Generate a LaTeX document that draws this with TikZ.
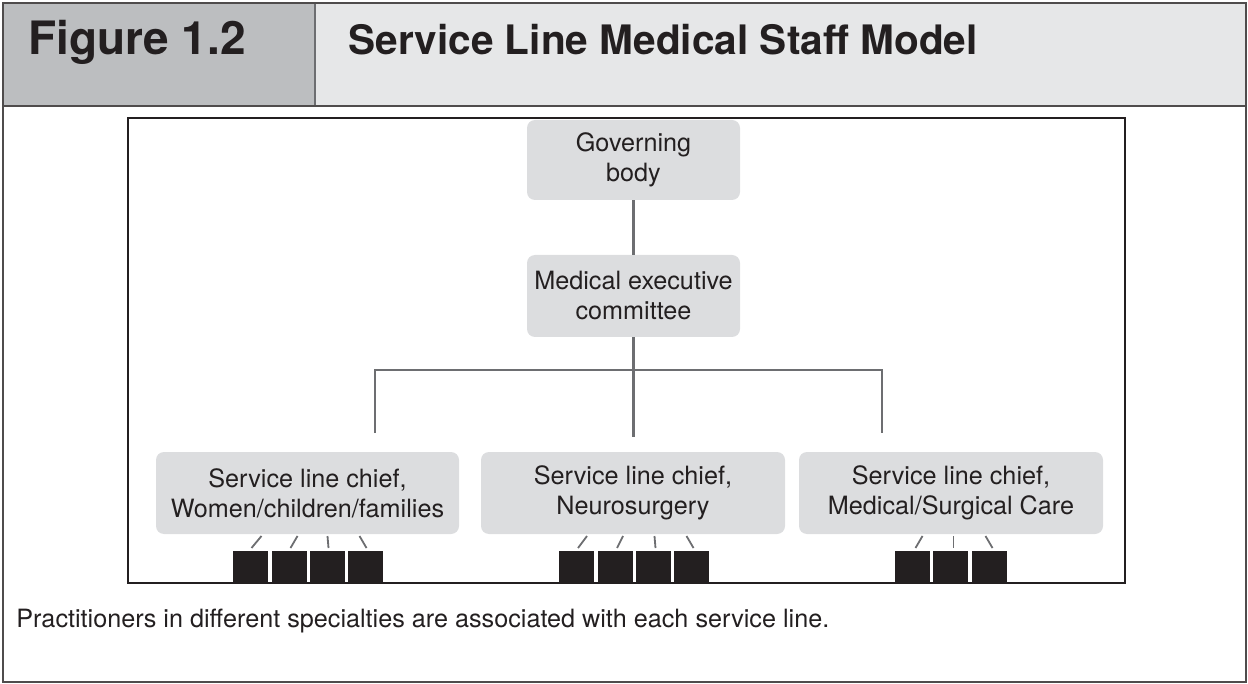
\documentclass[tikz,border=0pt]{standalone}
\usepackage{fontspec}
\setmainfont{TeX Gyre Heros}
\definecolor{ink}{HTML}{231F20}
\definecolor{rule}{HTML}{6D6E71}
\definecolor{boxfill}{HTML}{DCDDDF}
\definecolor{headdark}{HTML}{BCBEC0}
\definecolor{headlight}{HTML}{E6E7E8}

\begin{document}
\begin{tikzpicture}[x=0.5pt,y=-0.5pt,
        unit/.style={fill=boxfill,rounded corners=4pt,align=center,text=ink,
            font=\fontsize{12.6}{15}\selectfont,inner sep=0pt},
        link/.style={draw=rule,line width=1.3pt},
        member/.style={fill=ink}]
            \useasboundingbox (0,0) rectangle (1248,684);

            % header band and frame
            \fill[headdark]  (3,3) rectangle (315,106);
            \fill[headlight] (315,3) rectangle (1246,106);
            \draw[rule,line width=0.6pt] (315,3) -- (315,106);
            \draw[ink!80,line width=0.6pt] (3,106) -- (1246,106);
            \draw[ink!80,line width=0.6pt] (3,3) rectangle (1246,682);
            \node[anchor=base west,text=ink,font=\fontsize{23}{26}\bfseries\selectfont,inner sep=0pt]
                (fig) at (28,55) {Figure 1.2};
            \node[anchor=base west,text=ink,font=\fontsize{20.3}{24}\bfseries\selectfont,inner sep=0pt]
                (title) at (348,55) {Service Line Medical Staff Model};

            % chart frame
            \draw[ink,line width=1.3pt] (128,118) rectangle (1125,583);

            % boxes (sizes in pt, half the grid units)
            \node[unit,minimum width=106.5pt,minimum height=40pt] (gov) at (633.5,160) {Governing\\body};
            \node[unit,minimum width=106.5pt,minimum height=41pt] (mec) at (633.5,296) {Medical executive\\committee};
            \node[unit,minimum width=151.5pt,minimum height=41pt] (women) at (307.5,493) {Service line chief,\\Women/children/families};
            \node[unit,minimum width=152pt,minimum height=41pt] (neuro) at (633,493) {Service line chief,\\Neurosurgery};
            \node[unit,minimum width=152pt,minimum height=41pt] (medsurg) at (951,493) {Service line chief,\\Medical/Surgical Care};

            % tree lines
            \coordinate (ltop) at (375,433);
            \coordinate (ctop) at (633.5,437);
            \coordinate (rtop) at (882,433);
            \coordinate (rbend) at (882,370);
            \draw[link] (gov) -- (mec);
            \draw[link] (mec) -- (ctop);
            \draw[link] (ltop) |- (rbend) -- (rtop);

            % practitioners under each chief
            \foreach \x/\dx in {250.5/10, 289.5/7, 327.5/-1, 365.5/-7}{
                \fill[member] (\x-17.5,551) rectangle (\x+17.5,583);
                \draw[link,line width=0.9pt] (\x+\dx+1,536) -- (\x+1,548);
            }
            \foreach \x/\dx in {576/9, 615/6, 653.5/-1, 691.5/-7}{
                \fill[member] (\x-17.5,551) rectangle (\x+17.5,583);
                \draw[link,line width=0.9pt] (\x+\dx+2,536) -- (\x+2,548);
            }
            \foreach \x/\dx in {912.5/7, 950.5/0, 989.5/-7}{
                \fill[member] (\x-17.5,551) rectangle (\x+17.5,583);
                \draw[link,line width=0.9pt] (\x+\dx+3,536) -- (\x+3,548);
            }

            \node[anchor=base west,text=ink,font=\fontsize{12.6}{15}\selectfont,inner sep=0pt]
                (note) at (16,627) {Practitioners in different specialties are associated with each service line.};
\end{tikzpicture}
\end{document}
